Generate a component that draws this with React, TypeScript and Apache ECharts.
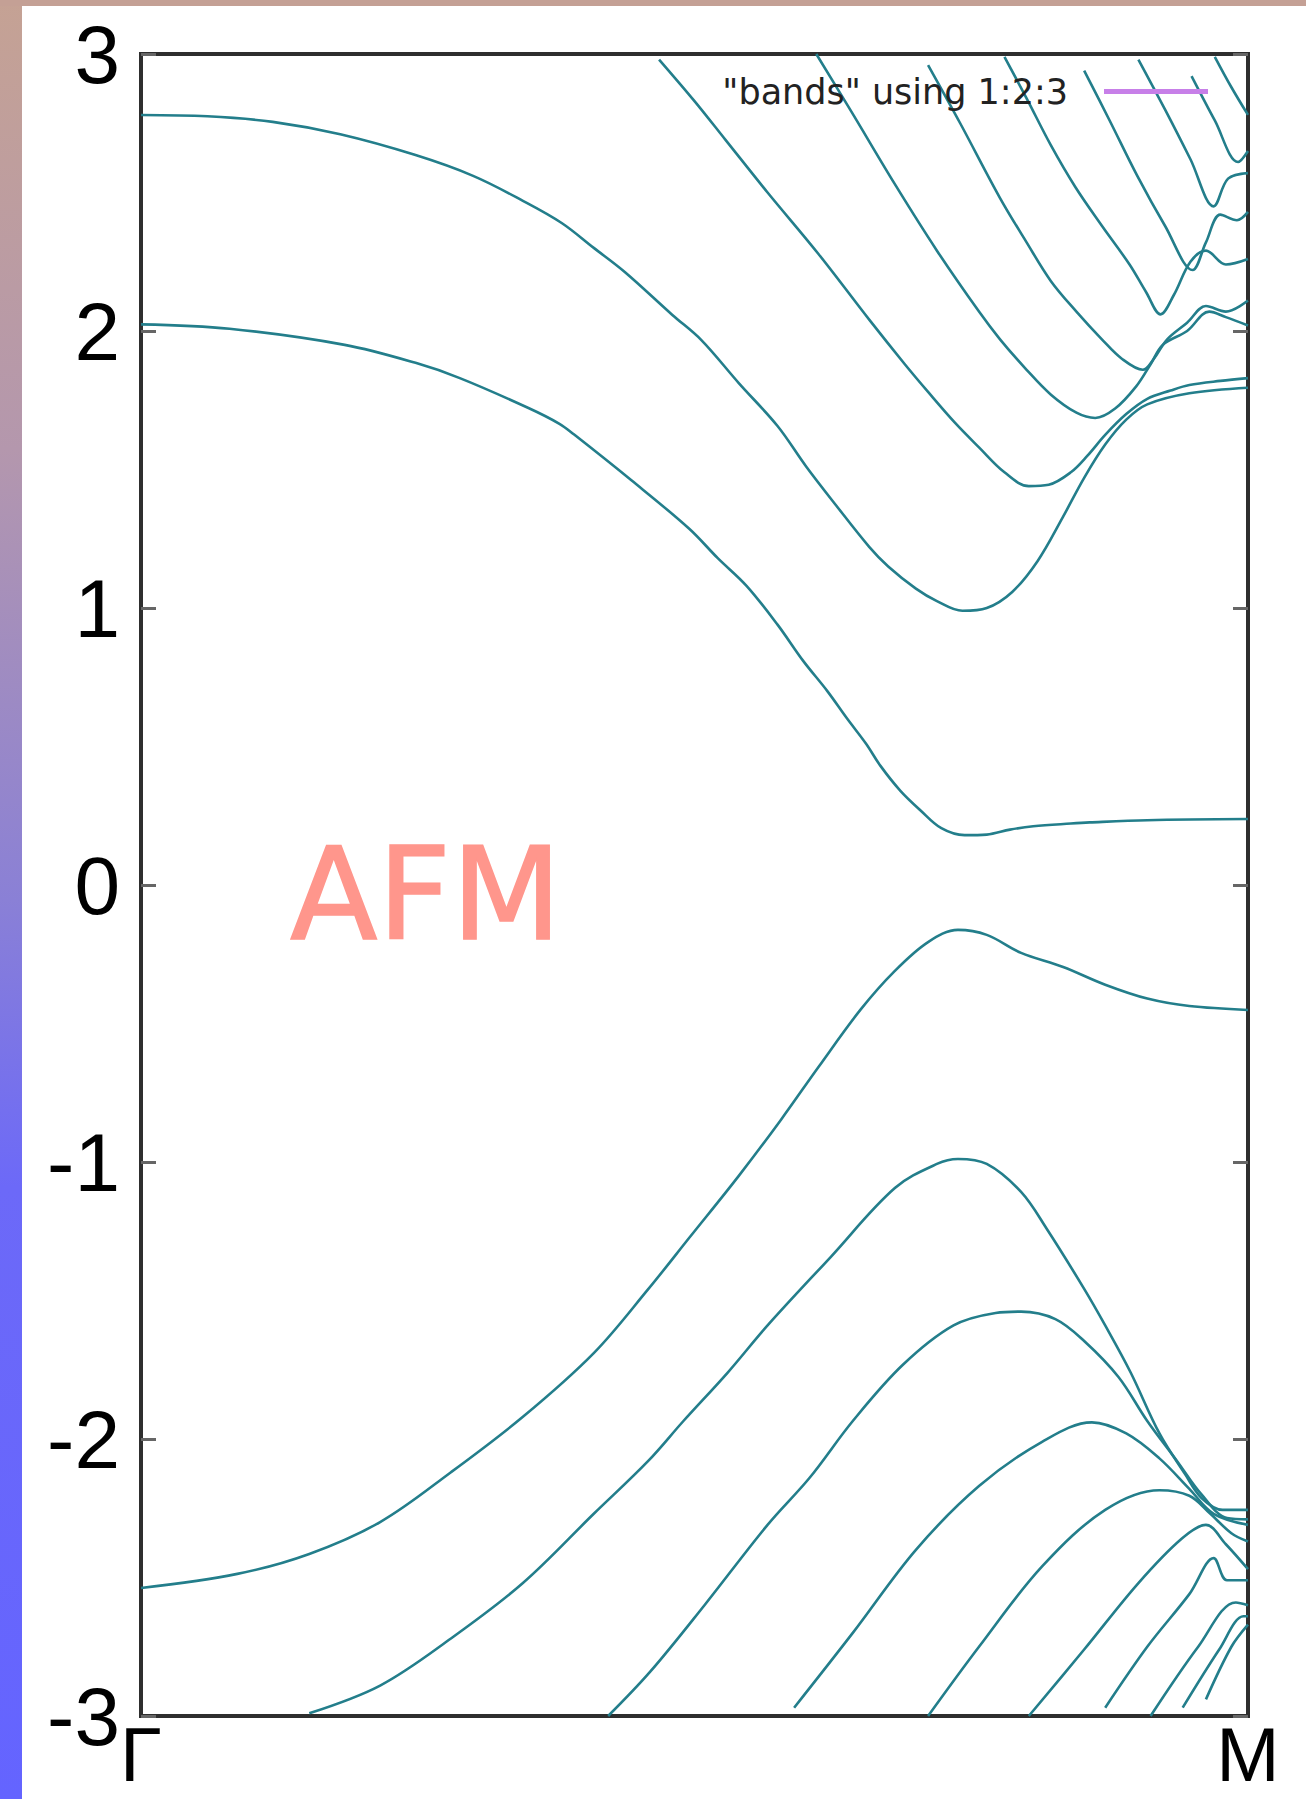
import React, { useEffect, useRef } from 'react';
import * as echarts from 'echarts';

const W = 1306;
const H = 1799;

const yTicks = [-3, -2, -1, 0, 1, 2, 3];
const kLabels = ['Γ', 'M'];
const legendName = '"bands" using 1:2:3';
const afmLabel = 'AFM';

// conduction bands: [k (0 = Γ, 1 = M), E]
const bandC1: number[][] = [[0,2.024],[0.08,2.008],[0.184,1.95],[0.248,1.885],[0.288,1.83],[0.35,1.722],[0.378,1.665],[0.391,1.627],[0.443,1.461],[0.495,1.287],[0.521,1.18],[0.547,1.08],[0.575,0.94],[0.598,0.81],[0.62,0.70],[0.638,0.60],[0.655,0.51],[0.668,0.43],[0.686,0.34],[0.704,0.27],[0.723,0.205],[0.744,0.18],[0.764,0.182],[0.785,0.2],[0.806,0.212],[0.84,0.222],[0.857,0.226],[0.909,0.234],[1.0,0.238]];
const bandC2: number[][] = [[0,2.78],[0.06,2.775],[0.119,2.755],[0.18,2.71],[0.248,2.635],[0.30,2.56],[0.345,2.47],[0.38,2.39],[0.409,2.30],[0.437,2.213],[0.48,2.058],[0.506,1.968],[0.540,1.812],[0.575,1.657],[0.601,1.51],[0.628,1.37],[0.658,1.22],[0.675,1.15],[0.70,1.07],[0.719,1.025],[0.742,0.99],[0.764,1.0],[0.787,1.058],[0.81,1.17],[0.833,1.33],[0.852,1.47],[0.871,1.59],[0.89,1.68],[0.909,1.735],[0.947,1.775],[1.0,1.795]];
const bandC3: number[][] = [[0.468,2.98],[0.50,2.83],[0.528,2.69],[0.566,2.50],[0.612,2.278],[0.658,2.04],[0.69,1.88],[0.711,1.78],[0.735,1.67],[0.757,1.58],[0.78,1.49],[0.802,1.44],[0.82,1.445],[0.84,1.49],[0.855,1.55],[0.871,1.625],[0.89,1.70],[0.909,1.755],[0.93,1.785],[0.947,1.805],[0.975,1.82],[1.0,1.83]];
const bandC4: number[][] = [[0.610,3.0],[0.642,2.79],[0.681,2.53],[0.719,2.29],[0.757,2.07],[0.776,1.97],[0.80,1.86],[0.822,1.77],[0.845,1.705],[0.862,1.686],[0.88,1.72],[0.899,1.80],[0.912,1.88],[0.923,1.95],[0.945,2.0],[0.965,2.07],[0.98,2.05],[1.0,2.02]];
const bandC5: number[][] = [[0.711,2.96],[0.74,2.75],[0.776,2.48],[0.80,2.32],[0.822,2.18],[0.845,2.07],[0.868,1.97],[0.886,1.90],[0.905,1.86],[0.915,1.90],[0.927,1.97],[0.945,2.03],[0.962,2.09],[0.98,2.07],[1.0,2.11]];
const bandC6: number[][] = [[0.780,2.99],[0.80,2.84],[0.822,2.67],[0.844,2.52],[0.868,2.38],[0.893,2.24],[0.908,2.14],[0.921,2.06],[0.933,2.13],[0.948,2.25],[0.962,2.29],[0.98,2.24],[1.0,2.26]];
const bandC7: number[][] = [[0.852,2.94],[0.875,2.76],[0.90,2.56],[0.925,2.38],[0.95,2.22],[0.962,2.32],[0.975,2.42],[0.99,2.40],[1.0,2.43]];
const bandC8: number[][] = [[0.901,2.98],[0.925,2.80],[0.948,2.62],[0.969,2.45],[0.982,2.55],[1.0,2.57]];
const bandC9: number[][] = [[0.949,2.92],[0.97,2.76],[0.991,2.61],[1.0,2.65]];
const bandC10: number[][] = [[0.970,2.99],[0.985,2.88],[1.0,2.78]];

// valence bands
const bandV1: number[][] = [[0,-2.538],[0.087,-2.487],[0.152,-2.415],[0.216,-2.30],[0.28,-2.12],[0.345,-1.92],[0.409,-1.69],[0.458,-1.46],[0.496,-1.27],[0.54,-1.05],[0.578,-0.848],[0.612,-0.657],[0.65,-0.45],[0.681,-0.31],[0.711,-0.206],[0.738,-0.162],[0.764,-0.18],[0.795,-0.245],[0.833,-0.296],[0.871,-0.36],[0.909,-0.41],[0.947,-0.437],[1.0,-0.451]];
const bandV2: number[][] = [[0.152,-2.99],[0.216,-2.89],[0.28,-2.72],[0.345,-2.52],[0.409,-2.27],[0.458,-2.08],[0.49,-1.935],[0.53,-1.76],[0.566,-1.59],[0.623,-1.343],[0.681,-1.094],[0.719,-1.007],[0.738,-0.989],[0.764,-1.007],[0.795,-1.108],[0.818,-1.24],[0.852,-1.458],[0.871,-1.59],[0.894,-1.76],[0.920,-1.98],[0.943,-2.126],[0.958,-2.213],[0.977,-2.256],[1.0,-2.256]];
const bandV3: number[][] = [[0.422,-3.0],[0.46,-2.84],[0.509,-2.60],[0.566,-2.31],[0.604,-2.14],[0.643,-1.935],[0.688,-1.733],[0.734,-1.59],[0.772,-1.545],[0.795,-1.54],[0.826,-1.567],[0.852,-1.646],[0.883,-1.776],[0.909,-1.935],[0.936,-2.08],[0.958,-2.20],[0.981,-2.285],[1.0,-2.29]];
const bandV4: number[][] = [[0.59,-2.97],[0.643,-2.70],[0.70,-2.40],[0.757,-2.17],[0.814,-2.01],[0.859,-1.94],[0.89,-1.98],[0.92,-2.07],[0.947,-2.18],[0.969,-2.27],[1.0,-2.31]];
const bandV5: number[][] = [[0.711,-3.0],[0.757,-2.75],[0.814,-2.46],[0.871,-2.256],[0.92,-2.185],[0.947,-2.205],[0.966,-2.27],[0.985,-2.34],[1.0,-2.37]];
const bandV6: number[][] = [[0.802,-3.0],[0.852,-2.76],[0.901,-2.52],[0.94,-2.36],[0.962,-2.31],[0.98,-2.38],[1.0,-2.47]];
const bandV7: number[][] = [[0.871,-2.97],[0.909,-2.75],[0.947,-2.56],[0.969,-2.43],[0.981,-2.51],[1.0,-2.51]];
const bandV8: number[][] = [[0.912,-3.0],[0.955,-2.75],[0.989,-2.59],[1.0,-2.6]];
const bandV9: number[][] = [[0.941,-2.97],[0.974,-2.76],[0.996,-2.64],[1.0,-2.64]];
const bandV10: number[][] = [[0.962,-2.94],[0.985,-2.75],[1.0,-2.67]];

const bands = [bandC1, bandC2, bandC3, bandC4, bandC5, bandC6, bandC7, bandC8, bandC9, bandC10,
  bandV1, bandV2, bandV3, bandV4, bandV5, bandV6, bandV7, bandV8, bandV9, bandV10];

const BAND_COLOR = '#237e8b';
const LEGEND_COLOR = '#c77fe8';

export default function App() {
  const ref = useRef<HTMLDivElement>(null);
  useEffect(() => {
    document.body.style.margin = '0';
    const chart = echarts.init(ref.current as HTMLDivElement, null, { renderer: 'svg' });
    const bandSeries = bands.map((b, i) => ({
      type: 'line',
      name: 'band' + i,
      data: b,
      showSymbol: false,
      symbol: 'none',
      smooth: 0.35,
      clip: true,
      silent: true,
      lineStyle: { color: BAND_COLOR, width: 2.6 },
      itemStyle: { color: BAND_COLOR },
      z: 3,
    }));
    chart.setOption({
      animation: false,
      backgroundColor: '#ffffff',
      grid: {
        left: 141, top: 54, width: 1107, height: 1662,
        show: true, borderColor: '#2e2e2e', borderWidth: 4, backgroundColor: 'transparent',
        containLabel: false,
      },
      legend: {
        show: true,
        data: [{ name: legendName, icon: 'rect' }],
        right: 98,
        top: 74,
        padding: 0,
        align: 'right',
        selectedMode: false,
        itemWidth: 104,
        itemHeight: 5,
        textStyle: { fontFamily: 'DejaVu Sans', fontSize: 35, color: '#222', padding: [0, 31, 0, 0] },
      },
      xAxis: {
        type: 'value', min: 0, max: 1, interval: 1,
        axisLine: { show: false }, axisTick: { show: false }, splitLine: { show: false },
        axisLabel: {
          formatter: (v: number) => (v === 0 ? kLabels[0] : kLabels[1]),
          fontFamily: 'Liberation Sans', fontSize: 76, color: '#000',
          margin: 38, verticalAlign: 'middle', lineHeight: 64,
          showMinLabel: true, showMaxLabel: true,
        },
      },
      yAxis: [
        {
          type: 'value', min: yTicks[0], max: yTicks[yTicks.length - 1], interval: 1,
          position: 'left',
          axisLine: { show: false },
          axisTick: { show: true, inside: true, length: 15, lineStyle: { color: '#666', width: 3 } },
          splitLine: { show: false },
          axisLabel: { fontFamily: 'Liberation Sans', fontSize: 82, color: '#000', margin: 21 },
        },
        {
          type: 'value', min: yTicks[0], max: yTicks[yTicks.length - 1], interval: 1,
          position: 'right',
          axisLine: { show: false },
          axisTick: { show: true, inside: true, length: 15, lineStyle: { color: '#666', width: 3 } },
          splitLine: { show: false },
          axisLabel: { show: false },
        },
      ],
      graphic: [
        {
          type: 'rect', z: -10, silent: true,
          shape: { x: 0, y: 0, width: 22, height: H },
          style: {
            fill: new echarts.graphic.LinearGradient(0, 0, 0, 1, [
              { offset: 0, color: '#c5a294' },
              { offset: 0.25, color: '#b497ad' },
              { offset: 0.5, color: '#8a80d6' },
              { offset: 0.66, color: '#6c69f8' },
              { offset: 1, color: '#6464ff' },
            ]),
          },
        },
        {
          type: 'rect', z: -10, silent: true,
          shape: { x: 0, y: 0, width: W, height: 6 },
          style: { fill: '#c4a095' },
        },
        {
          type: 'text', z: 10, silent: true,
          x: 290, y: 894, scaleX: 1.0,
          style: {
            text: afmLabel, fontFamily: 'DejaVu Sans', fontSize: 128,
            fill: '#ff968c', stroke: '#ff968c', lineWidth: 1.5, lineJoin: 'round',
            align: 'left', verticalAlign: 'middle',
          },
        },
      ],
      series: [
        ...bandSeries,
        {
          type: 'line', name: legendName, data: [], showSymbol: false,
          lineStyle: { color: LEGEND_COLOR, width: 5 }, itemStyle: { color: LEGEND_COLOR },
        },
      ],
    });
    return () => chart.dispose();
  }, []);
  return <div ref={ref} style={{ width: W, height: H }} />;
}
